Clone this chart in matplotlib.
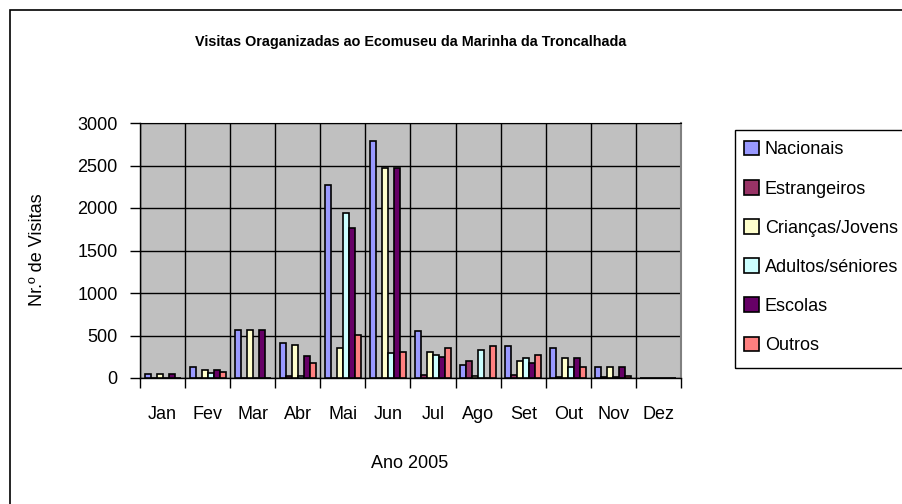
import numpy as np
import matplotlib.pyplot as plt
from matplotlib import patches

plt.rcParams["font.family"] = ["Liberation Sans", "DejaVu Sans"]

meses = ["Jan", "Fev", "Mar", "Abr", "Mai", "Jun", "Jul", "Ago", "Set", "Out", "Nov", "Dez"]

nacionais = [45, 135, 570, 415, 2270, 2790, 550, 155, 375, 355, 135, 0]
estrangeiros = [0, 0, 0, 20, 0, 0, 40, 200, 30, 15, 15, 0]
criancas = [45, 90, 570, 390, 355, 2470, 305, 20, 200, 240, 135, 0]
adultos = [0, 60, 0, 20, 1940, 300, 265, 330, 240, 130, 15, 0]
escolas = [45, 90, 570, 260, 1770, 2470, 245, 0, 180, 240, 135, 0]
outros = [0, 70, 0, 180, 510, 310, 355, 375, 265, 135, 20, 0]

series = [
    ("Nacionais", nacionais, "#9999FF"),
    ("Estrangeiros", estrangeiros, "#993366"),
    ("Crianças/Jovens", criancas, "#FFFFCC"),
    ("Adultos/séniores", adultos, "#CCFFFF"),
    ("Escolas", escolas, "#660066"),
    ("Outros", outros, "#FF8080"),
]

W, H = 902, 504
fig = plt.figure(figsize=(W / 100, H / 100), dpi=100)

# chart area border (right/bottom fall outside the picture)
fig.patches.append(patches.Rectangle((10 / W, -0.1), 1.1, 1 - 10 / H + 0.1,
                                     transform=fig.transFigure, fill=False,
                                     edgecolor="black", linewidth=1.2))

ax = fig.add_axes([140 / W, (H - 378) / H, 541 / W, 255 / H])
ax.set_facecolor("#C0C0C0")

n = len(series)
w = 1 / (n + 1.5)
x = np.arange(len(meses)) + 0.5
for j, (nome, vals, cor) in enumerate(series):
    ax.bar(x + (j - (n - 1) / 2) * w, vals, width=w, color=cor,
           edgecolor="black", linewidth=1.2, label=nome, zorder=3)

ax.set_xlim(0, 12)
ax.set_ylim(0, 3000)
ax.set_yticks(range(0, 3001, 500))
ax.set_xticks(np.arange(0, 13), minor=False)
ax.set_xticklabels([])
ax.set_xticks(x, meses, minor=True)
ax.tick_params(axis="x", which="major", length=7, width=1, direction="out")
ax.tick_params(axis="x", which="minor", length=0, pad=20, labelsize=13)
ax.tick_params(axis="y", length=7, width=1, pad=9, labelsize=13)
ax.grid(True, which="major", color="black", linewidth=1.0, zorder=1)
ax.set_axisbelow(True)

for s in ["left", "bottom"]:
    ax.spines[s].set_color("black")
    ax.spines[s].set_linewidth(1.0)
ax.spines["top"].set_color("black")
ax.spines["right"].set_color("#808080")
ax.spines["right"].set_linewidth(1.5)

fig.text(411 / W, 1 - 42 / H, "Visitas Oraganizadas ao Ecomuseu da Marinha da Troncalhada",
         ha="center", va="center", fontsize=10.4, fontweight="bold")
fig.text(410 / W, 1 - 463 / H, "Ano 2005", ha="center", va="center", fontsize=13)
fig.text(38 / W, 1 - 250 / H, "Nr.º de Visitas", ha="center", va="center",
         rotation=90, fontsize=13)

# legend with box running off the right edge
fig.patches.append(patches.Rectangle((735 / W, 1 - 368 / H), 300 / W, 238 / H,
                                     transform=fig.transFigure, fill=False,
                                     edgecolor="black", linewidth=1.0))
handles = [patches.Patch(facecolor=c, edgecolor="black", linewidth=1.2, label=nm)
           for nm, _, c in series]
fig.legend(handles=handles, loc="upper left", bbox_to_anchor=(744 / W, 1 - 141 / H),
           frameon=False, fontsize=13, handlelength=0.85, handleheight=0.85,
           handletextpad=0.3, labelspacing=1.2, borderpad=0, borderaxespad=0)

fig.savefig("out.png", dpi=100)
